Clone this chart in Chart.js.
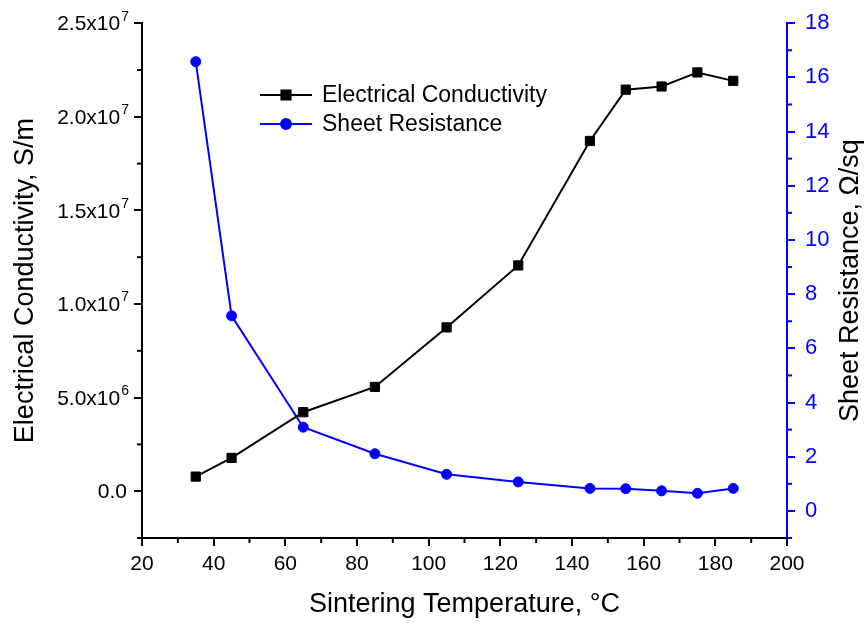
<!DOCTYPE html>
<html>
<head>
<meta charset="utf-8">
<script src="https://cdn.jsdelivr.net/npm/chart.js@4.4.0/dist/chart.umd.min.js"></script>
<style>
  html, body { margin: 0; padding: 0; background: #fff; }
  #wrap { width: 867px; height: 624px; }
</style>
</head>
<body>
<div id="wrap"><canvas id="myChart" width="867" height="624"></canvas></div>
<script>
const temperatures = [35, 45, 65, 85, 105, 125, 145, 155, 165, 175, 185];
const conductivity = [0.78e6, 1.78e6, 4.22e6, 5.57e6, 8.75e6, 12.06e6, 18.71e6, 21.45e6, 21.62e6, 22.37e6, 21.92e6];
const sheetResistance = [16.58, 7.2, 3.09, 2.11, 1.35, 1.07, 0.83, 0.82, 0.74, 0.65, 0.83];

const tempTicks = [20, 40, 60, 80, 100, 120, 140, 160, 180, 200];
const conductivityTicks = [0, 5e6, 1e7, 1.5e7, 2e7, 2.5e7];
const resistanceTicks = [0, 2, 4, 6, 8, 10, 12, 14, 16, 18];

const FONT = '"Liberation Sans", Arial, sans-serif';
const BLUE = '#0000ff';

Chart.defaults.font.family = FONT;
Chart.defaults.font.size = 21;
Chart.defaults.color = '#000';

// split a value into "2.5x10" and its exponent
function sciParts(v) {
  if (v === 0) return { base: '0.0', exp: '' };
  const e = Math.floor(Math.log10(Math.abs(v)) + 1e-9);
  return { base: (v / Math.pow(10, e)).toFixed(1) + 'x10', exp: String(e) };
}

const fixedTicks = list => scale => { scale.ticks = list.map(v => ({ value: v })); };

// conductivity tick labels with a raised exponent
const sciTickLabels = {
  id: 'sciTickLabels',
  afterDraw(chart) {
    const ctx = chart.ctx;
    const s = chart.scales.y;
    const xr = s.right - 8 - 7;
    ctx.save();
    ctx.fillStyle = '#000';
    ctx.textBaseline = 'middle';
    ctx.textAlign = 'right';
    s.ticks.forEach(t => {
      const y = s.getPixelForValue(t.value) + 1.5;
      const { base, exp } = sciParts(t.value);
      let x = xr;
      if (exp) {
        ctx.font = '14px ' + FONT;
        ctx.fillText(exp, x + 2, y - 8);
        x -= ctx.measureText(exp).width - 1;
      }
      ctx.font = '21px ' + FONT;
      ctx.fillText(base, x, y);
    });
    ctx.restore();
  }
};

// short ticks between the labelled ones
const minorTicks = {
  id: 'minorTicks',
  afterDraw(chart) {
    const ctx = chart.ctx;
    const a = chart.chartArea;
    const defs = [
      { id: 'x', step: 10, major: 20, color: '#000' },
      { id: 'y', step: 2.5e6, major: 5e6, color: '#000' },
      { id: 'y1', step: 1, major: 2, color: BLUE }
    ];
    ctx.save();
    ctx.lineWidth = 2;
    defs.forEach(d => {
      const s = chart.scales[d.id];
      ctx.strokeStyle = d.color;
      const i0 = Math.ceil(s.min / d.step - 1e-9);
      const i1 = Math.floor(s.max / d.step + 1e-9);
      for (let i = i0; i <= i1; i++) {
        const v = i * d.step;
        const r = v / d.major;
        if (Math.abs(r - Math.round(r)) < 1e-6) continue;
        const p = s.getPixelForValue(v);
        ctx.beginPath();
        if (d.id === 'x') { ctx.moveTo(p, a.bottom); ctx.lineTo(p, a.bottom + 5); }
        else if (d.id === 'y') { ctx.moveTo(a.left, p); ctx.lineTo(a.left - 5, p); }
        else { ctx.moveTo(a.right, p); ctx.lineTo(a.right + 5, p); }
        ctx.stroke();
      }
    });
    ctx.restore();
  }
};

// right axis title, reading bottom to top
const rightTitle = {
  id: 'rightTitle',
  afterDraw(chart) {
    const ctx = chart.ctx;
    const a = chart.chartArea;
    ctx.save();
    ctx.translate(851, (a.top + a.bottom) / 2);
    ctx.rotate(-Math.PI / 2);
    ctx.font = '27px ' + FONT;
    ctx.fillStyle = '#000';
    ctx.textAlign = 'center';
    ctx.textBaseline = 'middle';
    ctx.fillText('Sheet Resistance, Ω/sq', 0, 0);
    ctx.restore();
  }
};

// legend with line + marker samples
const lineLegend = {
  id: 'lineLegend',
  afterDraw(chart) {
    const ctx = chart.ctx;
    const x0 = 260, y0 = 95, rowH = 29;
    ctx.save();
    ctx.font = '23px ' + FONT;
    ctx.textBaseline = 'middle';
    ctx.textAlign = 'left';
    chart.data.datasets.forEach((ds, i) => {
      const y = y0 + i * rowH;
      ctx.strokeStyle = ds.borderColor;
      ctx.fillStyle = ds.borderColor;
      ctx.lineWidth = 2;
      ctx.beginPath();
      ctx.moveTo(x0, y);
      ctx.lineTo(x0 + 52, y);
      ctx.stroke();
      Chart.helpers.drawPoint(ctx, {
        pointStyle: ds.pointStyle,
        radius: ds.pointRadius,
        borderWidth: ds.pointBorderWidth,
        rotation: 0
      }, x0 + 26, y);
      ctx.fill();
      ctx.fillStyle = '#000';
      ctx.fillText(ds.label, x0 + 62, y + 1);
    });
    ctx.restore();
  }
};

const ctx = document.getElementById('myChart').getContext('2d');

const data = {
  datasets: [{
    label: 'Electrical Conductivity',
    data: temperatures.map((t, i) => ({ x: t, y: conductivity[i] })),
    yAxisID: 'y',
    borderColor: '#000',
    backgroundColor: '#000',
    borderWidth: 2,
    pointStyle: 'rect',
    pointRadius: 6.5,
    pointBorderWidth: 1,
    pointBackgroundColor: '#000',
    pointBorderColor: '#000',
    tension: 0
  }, {
    label: 'Sheet Resistance',
    data: temperatures.map((t, i) => ({ x: t, y: sheetResistance[i] })),
    yAxisID: 'y1',
    borderColor: BLUE,
    backgroundColor: BLUE,
    borderWidth: 2,
    pointStyle: 'circle',
    pointRadius: 5,
    pointBorderWidth: 1,
    pointBackgroundColor: BLUE,
    pointBorderColor: BLUE,
    tension: 0
  }]
};

const config = {
  type: 'line',
  data: data,
  options: {
    responsive: false,
    animation: false,
    layout: { padding: { top: 20, left: 0, right: 0, bottom: 0 } },
    plugins: { legend: { display: false }, tooltip: { enabled: false } },
    scales: {
      x: {
        type: 'linear',
        position: 'bottom',
        min: 20, max: 200,
        afterBuildTicks: fixedTicks(tempTicks),
        afterFit: s => { s.height = 86; },
        border: { display: true, color: '#000', width: 2 },
        grid: { drawOnChartArea: false, drawTicks: true, tickLength: 8, color: '#000', lineWidth: 2 },
        ticks: { padding: 6, color: '#000', maxRotation: 0, autoSkip: false, font: { size: 21 } },
        title: { display: true, text: 'Sintering Temperature, °C', font: { size: 27 }, padding: { top: 0, bottom: 3 } }
      },
      y: {
        type: 'linear',
        position: 'left',
        min: -2.5e6, max: 2.5e7,
        afterBuildTicks: fixedTicks(conductivityTicks),
        afterFit: s => { s.width = 142; },
        border: { display: true, color: '#000', width: 2 },
        grid: { drawOnChartArea: false, drawTicks: true, tickLength: 8, color: '#000', lineWidth: 2 },
        ticks: { display: false },
        title: { display: true, text: 'Electrical Conductivity, S/m', font: { size: 27 }, padding: { top: 9, bottom: 0 } }
      },
      y1: {
        type: 'linear',
        position: 'right',
        min: -1, max: 18,
        afterBuildTicks: fixedTicks(resistanceTicks),
        afterFit: s => { s.width = 80; },
        border: { display: true, color: BLUE, width: 2 },
        grid: { drawOnChartArea: false, drawTicks: true, tickLength: 8, color: BLUE, lineWidth: 2 },
        ticks: { padding: 10, color: BLUE, autoSkip: false, font: { size: 22 } }
      }
    }
  },
  plugins: [minorTicks, sciTickLabels, rightTitle, lineLegend]
};

const chart = new Chart(ctx, config);
</script>
</body>
</html>
